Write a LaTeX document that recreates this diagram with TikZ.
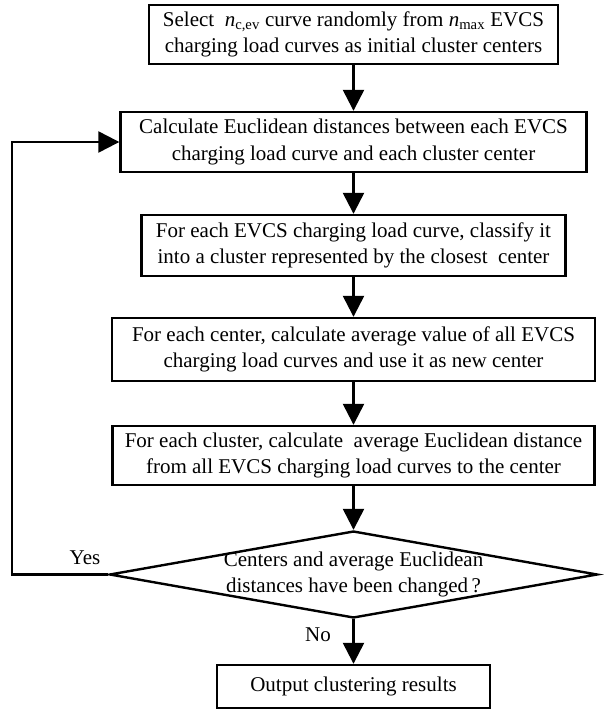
\documentclass[tikz,border=0pt]{standalone}
\usepackage{fontspec}
\setmainfont{Liberation Serif}
\usetikzlibrary{shapes.geometric,arrows.meta}
\begin{document}
\begin{tikzpicture}[x=1pt,y=-1pt,
  every node/.style={font=\fontsize{21}{26.5}\selectfont},
  stepbox/.style={draw,line width=2.4pt,inner sep=0pt,align=center},
  flow/.style={line width=2.4pt,-{Triangle[length=21pt,width=21pt]}},
  ]
\useasboundingbox (0,0) rectangle (604,710);

% process steps
\node[stepbox,minimum width=409pt,minimum height=59pt] (init) at (353.5,34.5)
  {Select\ \ {\itshape n}\textsubscript{c,ev} curve randomly from {\itshape n}\textsubscript{max} EVCS\\charging load curves as initial cluster centers};
\node[stepbox,minimum width=466pt,minimum height=60pt] (dist) at (353.5,142)
  {Calculate Euclidean distances between each EVCS\\charging load curve and each cluster center};
\node[stepbox,minimum width=424pt,minimum height=61pt] (assign) at (353.5,245.5)
  {For each EVCS charging load curve, classify it\\into a cluster represented by the closest\ \ center};
\node[stepbox,minimum width=483pt,minimum height=63pt] (update) at (353.5,349.5)
  {For each center, calculate average value of all EVCS\\charging load curves and use it as new center};
\node[stepbox,minimum width=482pt,minimum height=59pt] (avg) at (353.5,455.5)
  {For each cluster, calculate\ \ average Euclidean distance\\from all EVCS charging load curves to the center};

% decision
\node[diamond,draw,line width=2.4pt,inner sep=0pt,minimum width=488pt,minimum height=87pt] (check) at (353.5,574.5) {};
\node[align=center] (checktext) at (check.center)
  {Centers and average Euclidean\\distances have been changed\,?};

% result
\node[stepbox,minimum width=273pt,minimum height=43pt] (result) at (353.5,686.5)
  {Output clustering results};

% connectors
\draw[flow] (init) -- (dist);
\draw[flow] (dist) -- (assign);
\draw[flow] (assign) -- (update);
\draw[flow] (update) -- (avg);
\draw[flow] (avg) -- (check.north);
\draw[flow] (check.south) -- (result);
\coordinate (loop) at (12,574.5);
\draw[flow] (check.west) -- (loop) |- (dist.west);

% branch labels
\node (yes) at (85,558) {Yes};
\node (no) at (318,635) {No};
\end{tikzpicture}
\end{document}
